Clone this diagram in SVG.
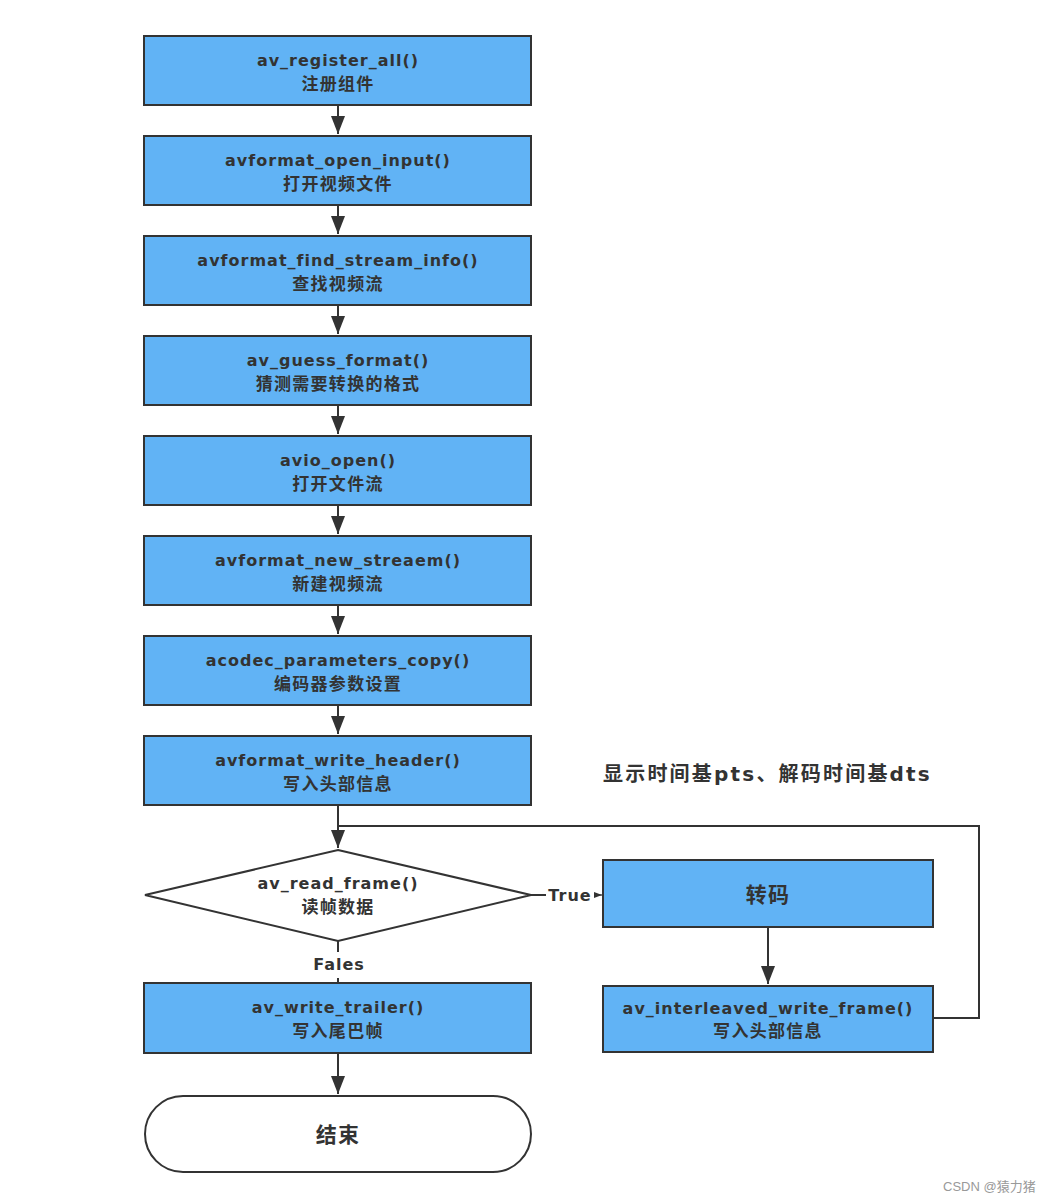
<svg xmlns="http://www.w3.org/2000/svg" width="1057" height="1202" viewBox="0 0 1057 1202">
<style>
.box{fill:#61b3f5;stroke:#333;stroke-width:2}
.wb{fill:#fff;stroke:#333;stroke-width:2}
.t{font-family:"DejaVu Sans","Noto Sans CJK SC",sans-serif;font-weight:bold;font-size:16px;fill:#333;text-anchor:middle;letter-spacing:1px}
.c{font-family:"Noto Sans CJK SC",sans-serif;font-weight:bold;font-size:17px;fill:#333;text-anchor:middle;letter-spacing:1.3px}
.ln{fill:none;stroke:#333;stroke-width:2}
</style>
<defs>
<marker id="ah2" viewBox="0 0 18 14" markerWidth="18" markerHeight="14" refX="18" refY="7" orient="auto" markerUnits="userSpaceOnUse">
<path d="M0,0 L18,7 L0,14 Z" fill="#333"/>
</marker>
<marker id="ah3" viewBox="0 0 8 6" markerWidth="8" markerHeight="6" refX="8" refY="3" orient="auto" markerUnits="userSpaceOnUse">
<path d="M0,0 L8,3 L0,6 Z" fill="#333"/>
</marker>
</defs>
<rect width="1057" height="1202" fill="#fff"/>
<g id="connectors">
<line class="ln" x1="338" y1="105" x2="338" y2="134" marker-end="url(#ah2)"/>
<line class="ln" x1="338" y1="205" x2="338" y2="234" marker-end="url(#ah2)"/>
<line class="ln" x1="338" y1="305" x2="338" y2="334" marker-end="url(#ah2)"/>
<line class="ln" x1="338" y1="405" x2="338" y2="434" marker-end="url(#ah2)"/>
<line class="ln" x1="338" y1="505" x2="338" y2="534" marker-end="url(#ah2)"/>
<line class="ln" x1="338" y1="605" x2="338" y2="634" marker-end="url(#ah2)"/>
<line class="ln" x1="338" y1="705" x2="338" y2="734" marker-end="url(#ah2)"/>
<line class="ln" x1="338" y1="805" x2="338" y2="848" marker-end="url(#ah2)"/>
<polyline class="ln" points="933,1018 979,1018 979,826 338,826"/>
<line class="ln" x1="531" y1="895" x2="546" y2="895"/>
<line class="ln" x1="594" y1="895" x2="602" y2="895" marker-end="url(#ah3)" style="stroke-width:1.2"/>
<line class="ln" x1="338" y1="941" x2="338" y2="952"/>
<line class="ln" x1="338" y1="978" x2="338" y2="983"/>
<line class="ln" x1="768" y1="927" x2="768" y2="984" marker-end="url(#ah2)"/>
<line class="ln" x1="338" y1="1053" x2="338" y2="1094" marker-end="url(#ah2)"/>
<text class="t" x="570" y="901">True</text>
<text class="t" x="339" y="970">Fales</text>
</g>
<g id="n1"><rect class="box" x="144" y="36" width="387" height="69"/><text class="t" x="338" y="66">av_register_all()</text><text class="c" x="338" y="90">注册组件</text></g>
<g id="n2"><rect class="box" x="144" y="136" width="387" height="69"/><text class="t" x="338" y="166">avformat_open_input()</text><text class="c" x="338" y="190">打开视频文件</text></g>
<g id="n3"><rect class="box" x="144" y="236" width="387" height="69"/><text class="t" x="338" y="266">avformat_find_stream_info()</text><text class="c" x="338" y="290">查找视频流</text></g>
<g id="n4"><rect class="box" x="144" y="336" width="387" height="69"/><text class="t" x="338" y="366">av_guess_format()</text><text class="c" x="338" y="390">猜测需要转换的格式</text></g>
<g id="n5"><rect class="box" x="144" y="436" width="387" height="69"/><text class="t" x="338" y="466">avio_open()</text><text class="c" x="338" y="490">打开文件流</text></g>
<g id="n6"><rect class="box" x="144" y="536" width="387" height="69"/><text class="t" x="338" y="566">avformat_new_streaem()</text><text class="c" x="338" y="590">新建视频流</text></g>
<g id="n7"><rect class="box" x="144" y="636" width="387" height="69"/><text class="t" x="338" y="666">acodec_parameters_copy()</text><text class="c" x="338" y="690">编码器参数设置</text></g>
<g id="n8"><rect class="box" x="144" y="736" width="387" height="69"/><text class="t" x="338" y="766">avformat_write_header()</text><text class="c" x="338" y="790">写入头部信息</text></g>
<g id="n9"><polygon class="wb" points="338,850 531,895 338,941 145,895"/><text class="t" x="338" y="889">av_read_frame()</text><text class="c" x="338" y="913">读帧数据</text></g>
<g id="n10"><rect class="box" x="144" y="983" width="387" height="70"/><text class="t" x="338" y="1013">av_write_trailer()</text><text class="c" x="338" y="1037">写入尾巴帧</text></g>
<g id="n11"><rect class="wb" x="145" y="1096" width="386" height="76" rx="38" ry="38"/><text class="c" x="338" y="1142" style="font-size:21px">结束</text></g>
<g id="n12"><rect class="box" x="603" y="860" width="330" height="67"/><text class="c" x="768" y="902" style="font-size:21px">转码</text></g>
<g id="n13"><rect class="box" x="603" y="986" width="330" height="66"/><text class="t" x="768" y="1014">av_interleaved_write_frame()</text><text class="c" x="768" y="1037">写入头部信息</text></g>
<text x="603" y="781" style="font-family:'DejaVu Sans','Noto Sans CJK SC',sans-serif;font-weight:bold;font-size:20px;fill:#333;letter-spacing:2.2px">显示时间基pts、解码时间基dts</text>
<text x="943" y="1191" style="font-family:'Liberation Sans','Noto Sans CJK SC',sans-serif;font-size:13px;fill:#999">CSDN @猿力猪</text>
</svg>
